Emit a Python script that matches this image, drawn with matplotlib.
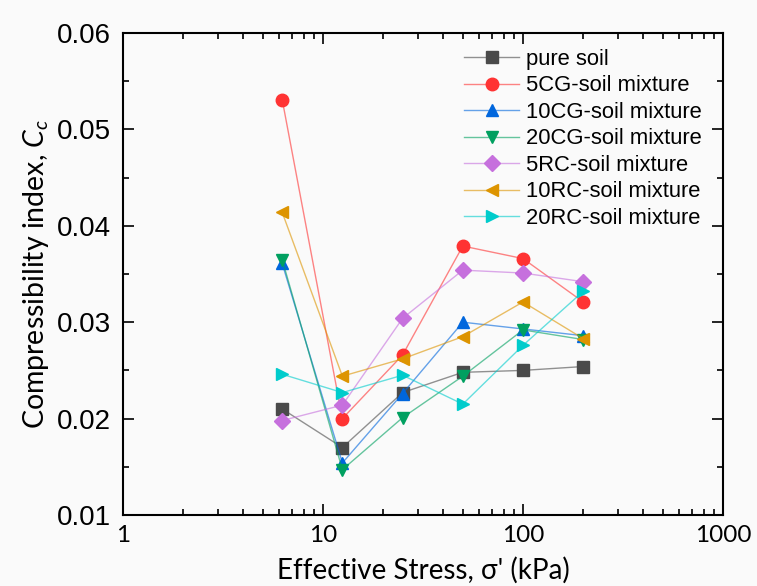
import matplotlib
matplotlib.use("Agg")
import matplotlib.pyplot as plt
from matplotlib.ticker import LogLocator, MultipleLocator, NullFormatter, FormatStrFormatter

# 数据
stress = [6.25, 12.5, 25, 50, 100, 200]
labels = ["pure soil", "5CG-soil mixture", "10CG-soil mixture", "20CG-soil mixture",
          "5RC-soil mixture", "10RC-soil mixture", "20RC-soil mixture"]
pure_soil = [0.0210, 0.0170, 0.0227, 0.0248, 0.0250, 0.0254]
cg5 = [0.0531, 0.0200, 0.0266, 0.0379, 0.0366, 0.0321]
cg10 = [0.0361, 0.0154, 0.0226, 0.0300, 0.0293, 0.0286]
cg20 = [0.0365, 0.0147, 0.0201, 0.0244, 0.0292, 0.0282]
rc5 = [0.0198, 0.0214, 0.0304, 0.0354, 0.0351, 0.0342]
rc10 = [0.0414, 0.0244, 0.0262, 0.0285, 0.0321, 0.0283]
rc20 = [0.0246, 0.0227, 0.0245, 0.0215, 0.0276, 0.0332]

series = [pure_soil, cg5, cg10, cg20, rc5, rc10, rc20]
colors = ["#4a4a4a", "#ff3333", "#0066dd", "#00a060", "#c670dd", "#dd9400", "#00cccc"]
markers = ["s", "o", "^", "v", "D", "<", ">"]
msizes = [8, 9, 9, 9, 8, 9, 9]

plt.rcParams['mathtext.fontset'] = 'custom'
plt.rcParams['mathtext.rm'] = 'Lato'
plt.rcParams['mathtext.it'] = 'Lato:italic'

fig = plt.figure(figsize=(7.57, 5.86), dpi=100, facecolor="#fafafa")
ax = fig.add_axes([123 / 757, 1 - 515 / 586, 600 / 757, 482 / 586])
ax.set_facecolor("#fafafa")

handles = []
for vals, c, m, ms in zip(series, colors, markers, msizes):
    ln, = ax.plot(stress, vals, color=c, lw=1, alpha=0.6)
    mk, = ax.plot(stress, vals, ls="none", marker=m, ms=ms, color=c, mec=c)
    handles.append((ln, mk))

# 图例：无边框，线+标记叠在一起
leg = ax.legend(handles, labels, loc="upper right", bbox_to_anchor=(0.997, 1.008),
                frameon=False, handlelength=2.5, labelspacing=0.25, handletextpad=0.3,
                prop={"family": ["Liberation Sans", "DejaVu Sans"], "size": 15.8})

ax.set_xscale("log")
ax.set_xlim(1, 1000)
ax.set_ylim(0.01, 0.06)
ax.yaxis.set_major_locator(MultipleLocator(0.01))
ax.yaxis.set_minor_locator(MultipleLocator(0.005))
ax.yaxis.set_major_formatter(FormatStrFormatter("%.2f"))
ax.xaxis.set_minor_locator(LogLocator(base=10, subs=range(2, 10)))
ax.xaxis.set_minor_formatter(NullFormatter())
ax.set_xticks([1, 10, 100, 1000])
ax.set_xticklabels(["1", "10", "100", "1000"])

ax.tick_params(which="both", direction="in", top=True, right=True, width=1.2)
ax.tick_params(which="major", length=8)
ax.tick_params(which="minor", length=4)
ax.tick_params(axis="y", which="major", pad=9)
ax.tick_params(axis="x", which="major", pad=7)
for t in ax.get_xticklabels():
    t.set_family(["Lato", "DejaVu Sans"])
    t.set_fontsize(17.5)
for t in ax.get_yticklabels():
    t.set_family(["Liberation Sans", "DejaVu Sans"])
    t.set_fontsize(20)
for s in ax.spines.values():
    s.set_linewidth(1.5)

ax.set_xlabel("Effective Stress, σ' (kPa)", family=["Lato", "DejaVu Sans"], fontsize=20)
ax.xaxis.set_label_coords(0.5, -(557 - 515) / 482)
ax.set_ylabel(r"Compressibility index, $C_c$", family=["Lato", "DejaVu Sans"], fontsize=20.5, labelpad=4)

fig.savefig("out.png", dpi=100, facecolor=fig.get_facecolor())
